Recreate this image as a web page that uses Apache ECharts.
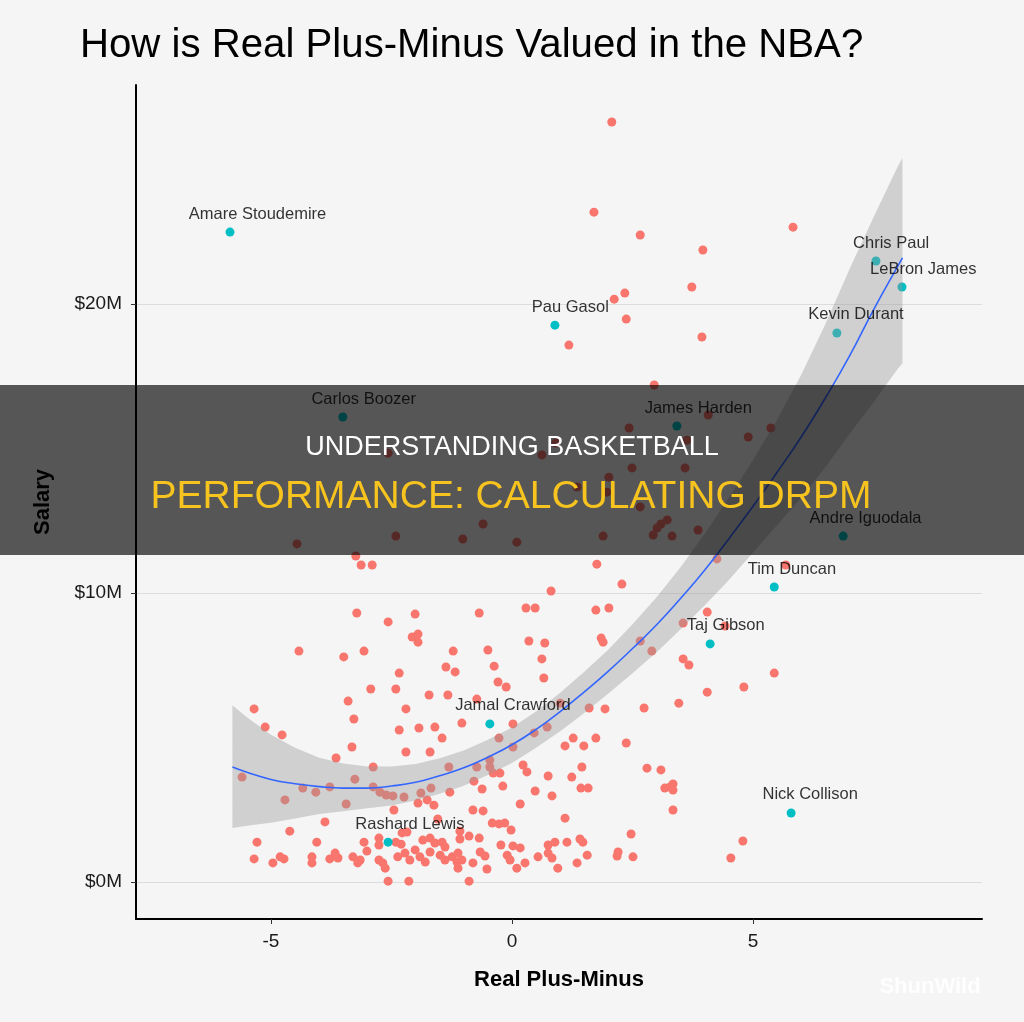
<!DOCTYPE html>
<html>
<head>
<meta charset="utf-8">
<title>How is Real Plus-Minus Valued in the NBA?</title>
<script src="https://cdn.jsdelivr.net/npm/echarts@6.0.0/dist/echarts.min.js"></script>
<style>
    html, body { margin: 0; padding: 0; background: #f5f5f5; }
    #chart { width: 1024px; height: 1022px; }
</style>
</head>
<body>
<div id="chart"></div>
<script>
// unlabeled players: [real plus-minus, salary in $M]
var otherPlayers = [
    [2.07, 26.30], [1.70, 23.18], [2.66, 22.39], [3.96, 21.87], [5.83, 22.66], [3.73, 20.59],
    [2.34, 20.38], [2.12, 20.17], [2.37, 19.48], [1.18, 18.58], [3.94, 18.86], [2.95, 17.20],
    [-2.57, 14.84], [0.62, 14.78], [0.91, 15.19], [-4.46, 11.70], [-2.41, 11.97], [-1.02, 11.87],
    [-0.60, 12.39], [0.10, 11.76], [2.43, 15.71], [4.07, 16.16], [5.37, 15.71], [4.90, 15.40],
    [3.63, 15.29], [2.49, 14.33], [3.59, 14.33], [2.01, 14.01], [1.35, 13.67], [1.97, 13.49],
    [2.66, 12.98], [3.22, 12.53], [3.09, 12.39], [3.01, 12.25], [2.93, 12.01], [3.32, 11.97],
    [3.86, 12.18], [1.89, 11.97], [-3.24, 11.28], [-3.13, 10.97], [-2.90, 10.97], [0.81, 10.07],
    [-3.22, 9.31], [-2.01, 9.27], [-2.57, 9.00], [-0.68, 9.31], [0.29, 9.48], [0.48, 9.48],
    [-2.07, 8.48], [-1.95, 8.58], [-1.95, 8.30], [0.35, 8.34], [0.68, 8.27], [-4.42, 7.99],
    [-3.49, 7.79], [-3.07, 7.99], [-1.22, 7.99], [-0.50, 8.03], [0.62, 7.72], [-1.37, 7.44],
    [-1.18, 7.27], [-0.37, 7.47], [-2.34, 7.23], [0.66, 7.06], [-0.29, 6.92], [-0.12, 6.75],
    [-2.93, 6.68], [-2.41, 6.68], [-1.72, 6.47], [-1.33, 6.47], [-3.40, 6.26], [-0.73, 6.33],
    [-2.20, 5.99], [-5.35, 5.99], [-3.28, 5.64], [-5.12, 5.36], [-4.77, 5.09], [-2.34, 5.26],
    [-1.93, 5.33], [-1.60, 5.36], [-1.45, 4.98], [-1.04, 5.50], [0.02, 5.47], [-0.27, 4.98],
    [0.73, 5.36], [0.46, 5.16], [1.00, 6.19], [-3.32, 4.67], [-2.20, 4.50], [-1.70, 4.50],
    [-3.65, 4.29], [0.02, 4.67], [-0.46, 4.22], [-0.73, 3.98], [-0.46, 3.98], [-0.39, 3.77],
    [-0.25, 3.77], [-1.31, 3.98], [-2.88, 3.98], [0.23, 4.05], [0.31, 3.81], [-5.60, 3.63],
    [-3.26, 3.56], [-0.79, 3.49], [-0.19, 3.32], [0.75, 3.67], [-4.34, 3.25], [-4.07, 3.11],
    [-3.78, 3.29], [-2.88, 3.29], [-2.74, 3.11], [-2.61, 3.01], [-2.47, 2.98], [-2.24, 2.94],
    [-1.89, 3.08], [-1.68, 3.25], [-1.29, 3.11], [-0.62, 3.22], [0.48, 3.15], [0.83, 2.98],
    [-4.71, 2.84], [-3.44, 2.70], [-1.95, 2.73], [-1.76, 2.84], [-1.62, 2.66], [-2.45, 2.49],
    [-0.81, 2.49], [-0.60, 2.46], [0.17, 2.70], [-3.88, 2.08], [-1.54, 2.18], [-0.41, 2.04],
    [-0.27, 2.01], [-0.15, 2.04], [-0.02, 1.80], [-4.61, 1.76], [-2.28, 1.70], [-2.18, 1.73],
    [-1.08, 1.76], [-5.29, 1.38], [-4.05, 1.38], [-3.07, 1.38], [-2.76, 1.52], [-2.76, 1.28],
    [-2.41, 1.38], [-2.30, 1.31], [-1.70, 1.52], [-1.60, 1.35], [-1.45, 1.38], [-0.89, 1.59],
    [-0.68, 1.52], [-1.08, 1.49], [-0.23, 1.28], [0.02, 1.25], [0.17, 1.18], [0.75, 1.28],
    [0.89, 1.38], [-1.85, 1.45], [-1.39, 1.21], [-5.35, 0.80], [-4.96, 0.66], [-4.81, 0.87],
    [-4.73, 0.80], [-4.15, 0.87], [-4.15, 0.66], [-3.78, 0.80], [-3.67, 1.00], [-3.61, 0.83],
    [-3.30, 0.87], [-3.15, 0.76], [-3.01, 1.07], [-3.20, 0.66], [-2.76, 0.76], [-2.63, 0.48],
    [-2.68, 0.66], [-2.37, 0.87], [-2.22, 1.00], [-2.12, 0.76], [-2.01, 1.11], [-1.91, 0.87],
    [-1.80, 0.69], [-1.70, 1.04], [-1.49, 0.93], [-1.39, 0.76], [-1.24, 0.87], [-1.12, 1.00],
    [-1.14, 0.69], [-1.04, 0.76], [-1.12, 0.48], [-0.81, 0.66], [-0.66, 1.04], [-0.56, 0.90],
    [-0.52, 0.45], [-0.10, 0.93], [-0.04, 0.76], [0.10, 0.48], [0.27, 0.66], [0.54, 0.87],
    [0.75, 1.00], [0.83, 0.83], [0.95, 0.48], [-2.57, 0.03], [-2.14, 0.03], [-0.89, 0.03],
    [1.76, 11.00], [2.28, 10.31], [4.25, 11.18], [5.68, 10.97], [1.74, 9.41], [2.01, 9.48],
    [4.05, 9.34], [3.55, 8.96], [4.42, 8.86], [1.85, 8.44], [1.89, 8.30], [2.66, 8.34],
    [2.90, 7.99], [3.55, 7.72], [3.67, 7.51], [5.44, 7.23], [4.05, 6.57], [4.81, 6.75],
    [3.46, 6.19], [1.60, 6.02], [1.93, 5.99], [2.74, 6.02], [1.27, 4.98], [1.10, 4.71],
    [1.49, 4.71], [1.74, 4.98], [2.37, 4.81], [1.45, 3.98], [2.80, 3.94], [3.09, 3.88],
    [1.24, 3.63], [1.43, 3.25], [1.58, 3.25], [3.17, 3.25], [3.28, 3.29], [3.34, 3.39],
    [3.34, 3.18], [3.34, 2.49], [1.10, 2.21], [2.47, 1.66], [4.79, 1.42], [1.14, 1.38],
    [1.41, 1.49], [1.47, 1.38], [1.56, 0.93], [1.35, 0.66], [2.20, 1.04], [2.18, 0.90],
    [2.51, 0.87], [4.54, 0.83]
];

// labeled players
var labeledNames = ['Amare Stoudemire', 'Pau Gasol', 'Chris Paul', 'LeBron James', 'Kevin Durant',
    'Carlos Boozer', 'James Harden', 'Andre Iguodala', 'Tim Duncan', 'Taj Gibson',
    'Jamal Crawford', 'Nick Collison', 'Rashard Lewis'];
var labeledRpm = [-5.85, 0.89, 7.55, 8.09, 6.74, -3.51, 3.42, 6.87, 5.44, 4.11, -0.46, 5.79, -2.57];
var labeledSalary = [22.49, 19.27, 21.49, 20.59, 19.00, 16.09, 15.78, 11.97, 10.21, 8.24, 5.47, 2.39, 1.38];

// smoother and its confidence band
var fitX = [-5.8, -5.5, -5.0, -4.5, -4.0, -3.5, -3.0, -2.5, -2.0, -1.5, -1.0, -0.5, 0.0, 0.5, 1.0,
    1.5, 2.0, 2.5, 3.0, 3.5, 4.0, 4.5, 5.0, 5.5, 6.0, 6.5, 7.0, 7.5, 8.0, 8.1];
var fitY = [3.98, 3.80, 3.55, 3.40, 3.30, 3.25, 3.25, 3.32, 3.45, 3.68, 3.95, 4.32, 4.75, 5.28, 5.90,
    6.58, 7.30, 8.08, 8.90, 9.82, 10.80, 11.88, 13.00, 14.18, 15.40, 16.75, 18.20, 19.80, 21.30, 21.60];
var fitUpper = [6.12, 5.70, 5.10, 4.65, 4.30, 4.10, 4.00, 4.00, 4.08, 4.28, 4.55, 4.92, 5.35, 5.90, 6.55,
    7.28, 8.05, 8.92, 9.85, 10.90, 12.05, 13.30, 14.60, 16.00, 17.55, 19.30, 21.20, 23.00, 24.75, 25.05];
var fitLower = [1.87, 1.95, 2.05, 2.20, 2.35, 2.45, 2.55, 2.65, 2.82, 3.05, 3.33, 3.70, 4.12, 4.65, 5.22,
    5.85, 6.52, 7.22, 7.95, 8.75, 9.58, 10.45, 11.40, 12.35, 13.30, 14.35, 15.50, 16.60, 17.75, 17.95];

var xTicks = [-5, 0, 5];
var yTicks = [0, 10, 20];

var FONT = '"Liberation Sans", Arial, Helvetica, sans-serif';

var chart = echarts.init(document.getElementById('chart'));

// measure names so the label sits like ggplot's hjust ~0.3
var ctx = document.createElement('canvas').getContext('2d');
ctx.font = '16.5px ' + FONT;

var labeledData = [];
for (var i = 0; i < labeledNames.length; i++) {
    var w = ctx.measureText(labeledNames[i]).width;
    labeledData.push({
        name: labeledNames[i],
        value: [labeledRpm[i], labeledSalary[i]],
        label: { offset: [0.2 * w, 0] }
    });
}

var fitLine = [];
for (var j = 0; j < fitX.length; j++) {
    fitLine.push([fitX[j], fitY[j]]);
}

chart.setOption({
    backgroundColor: '#f5f5f5',
    animation: false,
    textStyle: { fontFamily: FONT },
    title: {
        text: 'How is Real Plus-Minus Valued in the NBA?',
        left: 75,
        top: 21,
        textStyle: { fontSize: 40.2, fontWeight: 'normal', color: '#000', fontFamily: FONT }
    },
    grid: { left: 136, right: 42, top: 85, bottom: 103, containLabel: false, outerBoundsMode: 'none' },
    xAxis: {
        type: 'value',
        min: -7.8,
        max: 9.75,
        name: 'Real Plus-Minus',
        nameLocation: 'middle',
        nameGap: 50,
        nameTextStyle: { fontSize: 22, fontWeight: 'bold', color: '#000', fontFamily: FONT },
        axisLine: { show: true, onZero: false, lineStyle: { color: '#000', width: 2 } },
        axisTick: { show: true, customValues: xTicks, length: 5, lineStyle: { color: '#333' } },
        axisLabel: { customValues: xTicks, fontSize: 19, color: '#1a1a1a', margin: 13 },
        splitLine: { show: false }
    },
    yAxis: {
        type: 'value',
        min: -1.28,
        max: 27.58,
        name: 'Salary',
        nameLocation: 'middle',
        nameRotate: 90,
        nameGap: 82,
        nameTextStyle: { fontSize: 22, fontWeight: 'bold', color: '#000', fontFamily: FONT },
        axisLine: { show: true, onZero: false, lineStyle: { color: '#000', width: 2 } },
        axisTick: { show: true, customValues: yTicks, length: 5, lineStyle: { color: '#333' } },
        axisLabel: {
            customValues: yTicks, fontSize: 19, color: '#1a1a1a', margin: 14,
            formatter: function (v) { return '$' + v + 'M'; }
        },
        splitLine: { show: true, lineStyle: { color: '#dcdcdc', width: 1 } }
    },
    series: [
        {
            name: 'others',
            type: 'scatter',
            symbolSize: 9,
            z: 2,
            itemStyle: { color: '#F8766D', opacity: 1 },
            data: otherPlayers
        },
        {
            name: 'labeled',
            type: 'scatter',
            symbolSize: 9,
            z: 2,
            itemStyle: { color: '#00BFC4', opacity: 1 },
            data: labeledData
        },
        {
            name: 'band',
            type: 'custom',
            z: 3,
            silent: true,
            data: [[0, 0]],
            renderItem: function (params, api) {
                var pts = [];
                for (var k = 0; k < fitX.length; k++) pts.push(api.coord([fitX[k], fitUpper[k]]));
                for (var m = fitX.length - 1; m >= 0; m--) pts.push(api.coord([fitX[m], fitLower[m]]));
                return {
                    type: 'polygon',
                    shape: { points: pts },
                    style: { fill: 'rgba(153,153,153,0.4)' }
                };
            }
        },
        {
            name: 'fit',
            type: 'line',
            z: 4,
            smooth: true,
            showSymbol: false,
            silent: true,
            lineStyle: { color: '#3366FF', width: 1.6 },
            data: fitLine
        },
        {
            // names drawn on top of the band
            name: 'names',
            type: 'scatter',
            symbolSize: 9,
            z: 5,
            silent: true,
            itemStyle: { color: 'rgba(0,0,0,0)' },
            label: {
                show: true,
                position: 'top',
                distance: 5,
                formatter: '{b}',
                fontSize: 16.5,
                color: '#000',
                fontFamily: FONT
            },
            data: labeledData
        }
    ],
    graphic: [
        {
            type: 'rect',
            z: 100,
            silent: true,
            shape: { x: 0, y: 385, width: 1024, height: 170 },
            style: { fill: 'rgba(0,0,0,0.65)' }
        },
        {
            type: 'text',
            z: 101,
            x: 512,
            y: 448,
            style: {
                text: 'UNDERSTANDING BASKETBALL',
                fill: '#ffffff',
                font: '27px ' + FONT,
                textAlign: 'center',
                textVerticalAlign: 'middle'
            }
        },
        {
            type: 'text',
            z: 101,
            x: 511,
            y: 497,
            style: {
                text: 'PERFORMANCE: CALCULATING DRPM',
                fill: '#f7c31f',
                font: '39px ' + FONT,
                textAlign: 'center',
                textVerticalAlign: 'middle'
            }
        },
        {
            type: 'text',
            z: 101,
            x: 930,
            y: 987,
            style: {
                text: 'ShunWild',
                fill: 'rgba(255,255,255,0.9)',
                font: 'bold 22px ' + FONT,
                textAlign: 'center',
                textVerticalAlign: 'middle'
            }
        }
    ]
});
</script>
</body>
</html>
